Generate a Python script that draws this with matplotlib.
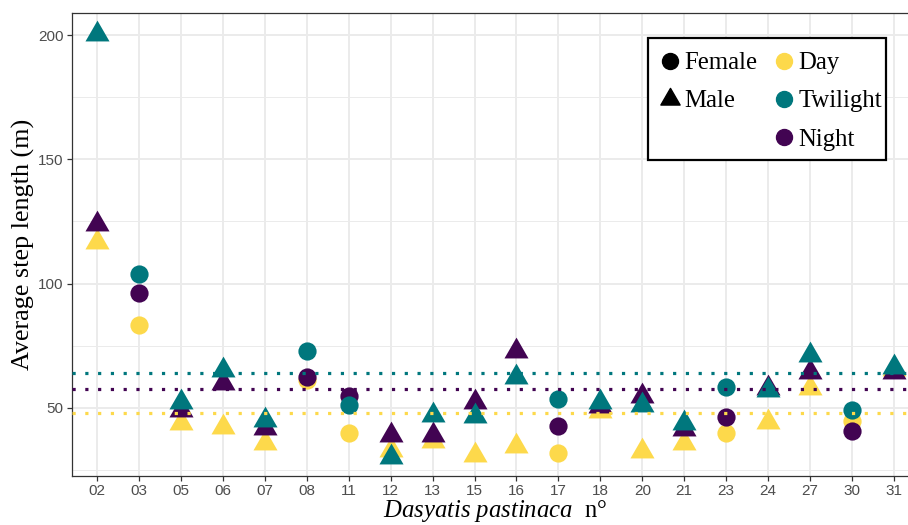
import matplotlib
matplotlib.use('Agg')
import matplotlib.pyplot as plt
import matplotlib.path as mpath
from matplotlib.lines import Line2D
from matplotlib.patches import Rectangle
import numpy as np

plt.rcParams['mathtext.fontset'] = 'custom'
plt.rcParams['mathtext.rm'] = 'Liberation Serif'
plt.rcParams['mathtext.it'] = 'Liberation Serif:italic'

# ── data ──────────────────────────────────────
individuals = ['02', '03', '05', '06', '07', '08', '11', '12', '13', '15',
               '16', '17', '18', '20', '21', '23', '24', '27', '30', '31']
sex = ['M', 'F', 'M', 'M', 'M', 'F', 'F', 'M', 'M', 'M',
       'M', 'F', 'M', 'M', 'M', 'F', 'M', 'M', 'F', 'M']

day      = [116.7, 83.4, 44.1, 42.5, 36.0, 61.3, 39.8, 33.1, 36.9, 31.2,
            34.6, 32.0, 48.8, 32.6, 36.0, 39.8, 44.2, 57.9, 44.9, 65.5]
night    = [124.1, 96.4, 49.2, 60.2, 41.8, 62.3, 54.8, 39.1, 39.1, 52.5,
            72.8, 42.8, 51.0, 54.9, 41.4, 46.5, 58.0, 64.5, 40.7, 64.5]
twilight = [200.5, 103.9, 52.5, 65.2, 45.2, 72.9, 51.2, 30.4, 47.3, 46.8,
            62.5, 53.5, 52.6, 51.3, 44.0, 58.6, 57.1, 71.2, 49.2, 66.6]

COL_DAY      = '#FDD94B'
COL_TWILIGHT = '#00777D'
COL_NIGHT    = '#420452'

# triangle with its centroid on the data point (like R's pch 17)
TRI = mpath.Path([(0, 1), (-0.866, -0.5), (0.866, -0.5), (0, 1)], closed=True)

W, H = 908, 525
fig = plt.figure(figsize=(W / 100, H / 100), dpi=100)
ax = fig.add_axes([72 / W, 49 / H, 847 / W, 463 / H])

x = np.arange(len(individuals))
is_f = np.array([s == 'F' for s in sex])

for vals, col in [(day, COL_DAY), (night, COL_NIGHT), (twilight, COL_TWILIGHT)]:
    v = np.array(vals)
    ax.scatter(x[is_f], v[is_f], s=172, marker='o', color=col, linewidths=0, zorder=3)
    ax.scatter(x[~is_f], v[~is_f], s=400, marker=TRI, color=col, linewidths=0, zorder=3)

# mean lines (dotted), drawn over the points
for vals, col in [(day, COL_DAY), (night, COL_NIGHT), (twilight, COL_TWILIGHT)]:
    ax.axhline(np.mean(vals), color=col, lw=2.3, linestyle=(0, (1, 3)),
               dash_capstyle='butt', zorder=4)

ax.set_xlim(-0.6, 19.6)
ax.set_ylim(22.65, 208.85)
ax.set_xticks(x)
ax.set_xticklabels(individuals)
ax.set_yticks([50, 100, 150, 200])
ax.set_yticks([25, 75, 125, 175], minor=True)

ax.grid(which='major', color='#EBEBEB', lw=1.4, zorder=0)
ax.grid(which='minor', axis='y', color='#EBEBEB', lw=0.7, zorder=0)
ax.set_axisbelow(True)

for sp in ax.spines.values():
    sp.set_color('#333333')
    sp.set_linewidth(0.9)

ax.tick_params(which='major', length=3.5, width=0.9, color='#333333',
               labelcolor='#4D4D4D', labelsize=11, pad=2.5)
ax.tick_params(which='minor', length=0)
for lab in ax.get_xticklabels() + ax.get_yticklabels():
    lab.set_family('Liberation Sans')

ax.set_ylabel('Average step length (m)', family='Liberation Serif', fontsize=18.8, labelpad=2)
ax.set_xlabel(r'$\mathit{Dasyatis\ pastinaca}$  n°', family='Liberation Serif',
              fontsize=17.8, labelpad=0)

# legend box (drawn separately so its padding can be uneven, as in ggplot)
box = Rectangle((648 / W, 1 - 160 / H), 238 / W, 122 / H, transform=fig.transFigure,
                facecolor='white', edgecolor='black', lw=1.6, zorder=4.5, clip_on=False)
ax.add_artist(box)

# legend: shape column + period column
handles = [
    Line2D([], [], marker='o', color='black', linestyle='none', markersize=11.5),
    Line2D([], [], marker=TRI, color='black', linestyle='none', markersize=16),
    Line2D([], [], linestyle='none'),
    Line2D([], [], marker='o', color=COL_DAY, linestyle='none', markersize=11.5),
    Line2D([], [], marker='o', color=COL_TWILIGHT, linestyle='none', markersize=11.5),
    Line2D([], [], marker='o', color=COL_NIGHT, linestyle='none', markersize=11.5),
]
labels = ['Female', 'Male', '', 'Day', 'Twilight', 'Night']
leg = ax.legend(handles, labels, ncol=2, loc='upper left',
                bbox_to_anchor=(660 / W, 1 - 52 / H), bbox_transform=fig.transFigure,
                borderaxespad=0, frameon=False, borderpad=0,
                prop={'family': 'Liberation Serif', 'size': 17.8},
                handlelength=0.8, handletextpad=0.2, columnspacing=0.66,
                labelspacing=0.64)
leg.set_zorder(5)

fig.savefig('out.png', dpi=100)
